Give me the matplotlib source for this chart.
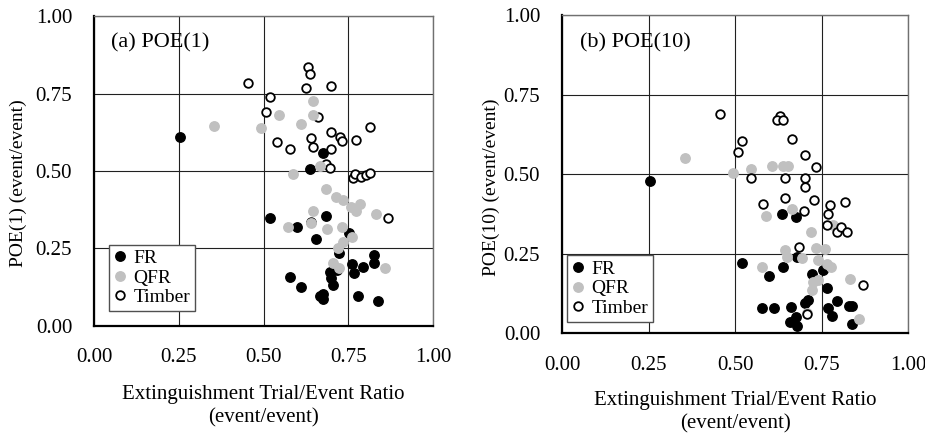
import matplotlib.pyplot as plt

plt.rcParams['font.family'] = ['Liberation Serif', 'DejaVu Serif']

# ---------------- data: (a) POE(1) ----------------
fr1_x = [0.253, 0.675, 0.636, 0.518, 0.599, 0.683, 0.656, 0.752, 0.723, 0.717,
         0.695, 0.700, 0.705, 0.762, 0.768, 0.794, 0.826, 0.826, 0.577, 0.609,
         0.666, 0.674, 0.674, 0.779, 0.837]
fr1_y = [0.611, 0.559, 0.505, 0.349, 0.318, 0.355, 0.280, 0.299, 0.235, 0.181,
         0.175, 0.154, 0.132, 0.199, 0.170, 0.191, 0.228, 0.202, 0.157, 0.127,
         0.095, 0.103, 0.086, 0.095, 0.082]

qfr1_x = [0.354, 0.492, 0.546, 0.609, 0.646, 0.646, 0.587, 0.666, 0.683, 0.713,
          0.735, 0.759, 0.774, 0.784, 0.833, 0.646, 0.641, 0.572, 0.688, 0.732,
          0.762, 0.735, 0.721, 0.705, 0.722, 0.858]
qfr1_y = [0.645, 0.640, 0.681, 0.652, 0.727, 0.681, 0.490, 0.515, 0.442, 0.415,
          0.406, 0.385, 0.372, 0.392, 0.361, 0.370, 0.331, 0.320, 0.313, 0.320,
          0.286, 0.272, 0.251, 0.202, 0.186, 0.186]

tim1_x = [0.454, 0.518, 0.507, 0.540, 0.577, 0.631, 0.636, 0.624, 0.698, 0.662,
          0.698, 0.725, 0.732, 0.641, 0.646, 0.698, 0.774, 0.815, 0.683, 0.695,
          0.764, 0.769, 0.789, 0.803, 0.815, 0.867, 0.641]
tim1_y = [0.785, 0.738, 0.691, 0.593, 0.570, 0.836, 0.813, 0.767, 0.774, 0.673,
          0.627, 0.611, 0.598, 0.606, 0.576, 0.570, 0.600, 0.641, 0.523, 0.511,
          0.476, 0.489, 0.480, 0.488, 0.495, 0.347, 0.337]

# ---------------- data: (b) POE(10) ----------------
fr10_x = [0.253, 0.520, 0.597, 0.639, 0.634, 0.675, 0.677, 0.721, 0.753, 0.764,
          0.795, 0.829, 0.769, 0.779, 0.836, 0.577, 0.613, 0.660, 0.658, 0.675,
          0.677, 0.701, 0.711, 0.838]
fr10_y = [0.480, 0.220, 0.180, 0.208, 0.375, 0.367, 0.239, 0.186, 0.199, 0.143,
          0.103, 0.086, 0.081, 0.055, 0.029, 0.081, 0.081, 0.084, 0.037, 0.052,
          0.024, 0.094, 0.105, 0.086]

qfr10_x = [0.353, 0.494, 0.545, 0.607, 0.639, 0.651, 0.665, 0.588, 0.718, 0.576,
           0.644, 0.648, 0.692, 0.733, 0.759, 0.740, 0.764, 0.776, 0.724, 0.740,
           0.721, 0.706, 0.832, 0.858, 0.783]
qfr10_y = [0.550, 0.503, 0.517, 0.527, 0.527, 0.527, 0.390, 0.369, 0.318, 0.210,
           0.262, 0.239, 0.236, 0.267, 0.265, 0.230, 0.217, 0.208, 0.162, 0.168,
           0.136, 0.063, 0.170, 0.045, 0.341]

tim10_x = [0.456, 0.629, 0.621, 0.639, 0.665, 0.520, 0.509, 0.701, 0.732, 0.545,
           0.644, 0.701, 0.701, 0.644, 0.727, 0.581, 0.697, 0.774, 0.769, 0.817,
           0.764, 0.795, 0.805, 0.822, 0.685, 0.868, 0.706]
tim10_y = [0.690, 0.684, 0.669, 0.669, 0.611, 0.606, 0.571, 0.561, 0.522, 0.487,
           0.487, 0.487, 0.459, 0.425, 0.419, 0.407, 0.385, 0.403, 0.374, 0.412,
           0.341, 0.318, 0.335, 0.318, 0.270, 0.152, 0.062]

ticks = [0.0, 0.25, 0.5, 0.75, 1.0]
tick_labels = ['0.00', '0.25', '0.50', '0.75', '1.00']
xlabel = 'Extinguishment Trial/Event Ratio\n(event/event)'

GRAY = '#c0c0c0'
ms = 6.8
fs = 15

fig = plt.figure(figsize=(9.25, 4.34), dpi=100)
ax1 = fig.add_axes([0.102, 0.249, 0.366, 0.714])
ax2 = fig.add_axes([0.608, 0.232, 0.374, 0.733])


def panel(ax, fx, fy, qx, qy, tx, ty, title, ylab, qfr_top, leg_box, ylab_x, xpad):
    ax.plot(fx, fy, 'o', color='black', ms=ms, mec='black', label='FR', zorder=3)
    # which series sits on top differs between the two panels
    zq, zt = (5, 4) if qfr_top else (4, 5)
    ax.plot(qx, qy, 'o', color=GRAY, ms=ms, mec=GRAY, label='QFR', zorder=zq)
    ax.plot(tx, ty, 'o', mfc='white', mec='black', mew=1.3, ms=ms - 0.6,
            label='Timber', zorder=zt)
    ax.set_xlim(0, 1)
    ax.set_ylim(0, 1)
    ax.set_xticks(ticks)
    ax.set_yticks(ticks)
    ax.set_xticklabels(tick_labels)
    ax.set_yticklabels(tick_labels)
    ax.tick_params(length=0, labelsize=fs, pad=16)
    ax.grid(True, color='#202020', lw=0.8)
    ax.set_axisbelow(True)
    for s in ['left', 'bottom']:
        ax.spines[s].set_color('black')
        ax.spines[s].set_linewidth(1.6)
    for s in ['top', 'right']:
        ax.spines[s].set_color('#707070')
        ax.spines[s].set_linewidth(1.0)
    ax.text(0.05, 0.913, title, transform=ax.transAxes, fontsize=16,
            va='center', ha='left')
    ax.set_ylabel(ylab, fontsize=14)
    ax.yaxis.set_label_coords(ylab_x, 0.46)
    ax.set_xlabel(xlabel, fontsize=fs, linespacing=1.25, labelpad=xpad)
    leg = ax.legend(loc='lower left', bbox_to_anchor=leg_box, mode='expand',
                    fontsize=14, frameon=True, fancybox=False, borderaxespad=0,
                    handlelength=0.6, handletextpad=0.4, labelspacing=0.1,
                    borderpad=0.25, framealpha=1)
    leg.get_frame().set_edgecolor('#505050')
    leg.get_frame().set_linewidth(1.0)
    leg.set_zorder(10)


panel(ax1, fr1_x, fr1_y, qfr1_x, qfr1_y, tim1_x, tim1_y, '(a) POE(1)',
      'POE(1) (event/event)', True, (0.043, 0.048, 0.254, 0.229), -0.199, 13)
panel(ax2, fr10_x, fr10_y, qfr10_x, qfr10_y, tim10_x, tim10_y, '(b) POE(10)',
      'POE(10) (event/event)', False, (0.013, 0.036, 0.248, 0.221), -0.18, 12)

fig.savefig('out.png', dpi=100)
